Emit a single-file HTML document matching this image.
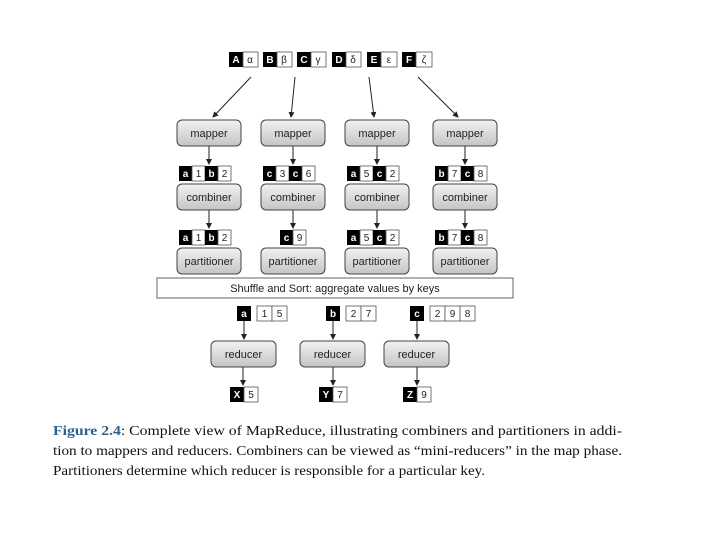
<!DOCTYPE html>
<html><head><meta charset="utf-8"><style>
body{margin:0;background:#fff;}
svg{display:block;}
.k{fill:#000}
.v{fill:#fff;stroke:#555;stroke-width:0.8}
.kt{fill:#fff;font:bold 10px "Liberation Sans",sans-serif;text-anchor:middle}
.vt{fill:#222;font:10px "Liberation Sans",sans-serif;text-anchor:middle}
.n{fill:url(#g);stroke:#444;stroke-width:1}
.nt{fill:#222;font:11px "Liberation Sans",sans-serif;text-anchor:middle}
.a{stroke:#222;stroke-width:1;fill:none;marker-end:url(#ar)}
.cap{font:13.5px "Liberation Serif",serif;fill:#111}
</style></head><body>
<svg width="720" height="540" xmlns="http://www.w3.org/2000/svg">
<defs>
<linearGradient id="g" x1="0" y1="0" x2="0" y2="1"><stop offset="0" stop-color="#f2f2f2"/><stop offset="1" stop-color="#c4c4c4"/></linearGradient>
<marker id="ar" markerWidth="6" markerHeight="6" refX="5" refY="3" orient="auto"><path d="M0,0 L6,3 L0,6 z" fill="#222"/></marker>
</defs>
<!-- top inputs -->
<g>
<rect class="k" x="229" y="52" width="14" height="15"/><text class="kt" x="236" y="63">A</text><rect class="v" x="243" y="52" width="15" height="15"/><text class="vt" x="250" y="63">α</text>
<rect class="k" x="263" y="52" width="14" height="15"/><text class="kt" x="270" y="63">B</text><rect class="v" x="277" y="52" width="15" height="15"/><text class="vt" x="284" y="63">β</text>
<rect class="k" x="297" y="52" width="14" height="15"/><text class="kt" x="304" y="63">C</text><rect class="v" x="311" y="52" width="15" height="15"/><text class="vt" x="318" y="63">γ</text>
<rect class="k" x="332" y="52" width="14" height="15"/><text class="kt" x="339" y="63">D</text><rect class="v" x="346" y="52" width="15" height="15"/><text class="vt" x="353" y="63">δ</text>
<rect class="k" x="367" y="52" width="14" height="15"/><text class="kt" x="374" y="63">E</text><rect class="v" x="381" y="52" width="16" height="15"/><text class="vt" x="389" y="63">ε</text>
<rect class="k" x="402" y="52" width="14" height="15"/><text class="kt" x="409" y="63">F</text><rect class="v" x="416" y="52" width="16" height="15"/><text class="vt" x="424" y="63">ζ</text>
</g>
<line class="a" x1="251" y1="77" x2="213" y2="117"/>
<line class="a" x1="295" y1="77" x2="291" y2="117"/>
<line class="a" x1="369" y1="77" x2="374" y2="117"/>
<line class="a" x1="418" y1="77" x2="458" y2="117"/>
<!-- mappers -->
<rect class="n" x="177" y="120" width="64" height="26" rx="5"/><text class="nt" x="209" y="137">mapper</text>
<rect class="n" x="261" y="120" width="64" height="26" rx="5"/><text class="nt" x="293" y="137">mapper</text>
<rect class="n" x="345" y="120" width="64" height="26" rx="5"/><text class="nt" x="377" y="137">mapper</text>
<rect class="n" x="433" y="120" width="64" height="26" rx="5"/><text class="nt" x="465" y="137">mapper</text>
<line class="a" x1="209" y1="146" x2="209" y2="164"/>
<line class="a" x1="293" y1="146" x2="293" y2="164"/>
<line class="a" x1="377" y1="146" x2="377" y2="164"/>
<line class="a" x1="465" y1="146" x2="465" y2="164"/>
<!-- pairs row 1 -->
<g>
<rect class="k" x="179" y="166" width="13" height="15"/><text class="kt" x="185.5" y="177">a</text><rect class="v" x="192" y="166" width="13" height="15"/><text class="vt" x="198.5" y="177">1</text><rect class="k" x="205" y="166" width="13" height="15"/><text class="kt" x="211.5" y="177">b</text><rect class="v" x="218" y="166" width="13" height="15"/><text class="vt" x="224.5" y="177">2</text>
<rect class="k" x="263" y="166" width="13" height="15"/><text class="kt" x="269.5" y="177">c</text><rect class="v" x="276" y="166" width="13" height="15"/><text class="vt" x="282.5" y="177">3</text><rect class="k" x="289" y="166" width="13" height="15"/><text class="kt" x="295.5" y="177">c</text><rect class="v" x="302" y="166" width="13" height="15"/><text class="vt" x="308.5" y="177">6</text>
<rect class="k" x="347" y="166" width="13" height="15"/><text class="kt" x="353.5" y="177">a</text><rect class="v" x="360" y="166" width="13" height="15"/><text class="vt" x="366.5" y="177">5</text><rect class="k" x="373" y="166" width="13" height="15"/><text class="kt" x="379.5" y="177">c</text><rect class="v" x="386" y="166" width="13" height="15"/><text class="vt" x="392.5" y="177">2</text>
<rect class="k" x="435" y="166" width="13" height="15"/><text class="kt" x="441.5" y="177">b</text><rect class="v" x="448" y="166" width="13" height="15"/><text class="vt" x="454.5" y="177">7</text><rect class="k" x="461" y="166" width="13" height="15"/><text class="kt" x="467.5" y="177">c</text><rect class="v" x="474" y="166" width="13" height="15"/><text class="vt" x="480.5" y="177">8</text>
</g>
<!-- combiners -->
<rect class="n" x="177" y="184" width="64" height="26" rx="5"/><text class="nt" x="209" y="201">combiner</text>
<rect class="n" x="261" y="184" width="64" height="26" rx="5"/><text class="nt" x="293" y="201">combiner</text>
<rect class="n" x="345" y="184" width="64" height="26" rx="5"/><text class="nt" x="377" y="201">combiner</text>
<rect class="n" x="433" y="184" width="64" height="26" rx="5"/><text class="nt" x="465" y="201">combiner</text>
<line class="a" x1="209" y1="210" x2="209" y2="228"/>
<line class="a" x1="293" y1="210" x2="293" y2="228"/>
<line class="a" x1="377" y1="210" x2="377" y2="228"/>
<line class="a" x1="465" y1="210" x2="465" y2="228"/>
<!-- pairs row 2 -->
<g>
<rect class="k" x="179" y="230" width="13" height="15"/><text class="kt" x="185.5" y="241">a</text><rect class="v" x="192" y="230" width="13" height="15"/><text class="vt" x="198.5" y="241">1</text><rect class="k" x="205" y="230" width="13" height="15"/><text class="kt" x="211.5" y="241">b</text><rect class="v" x="218" y="230" width="13" height="15"/><text class="vt" x="224.5" y="241">2</text>
<rect class="k" x="280" y="230" width="13" height="15"/><text class="kt" x="286.5" y="241">c</text><rect class="v" x="293" y="230" width="13" height="15"/><text class="vt" x="299.5" y="241">9</text>
<rect class="k" x="347" y="230" width="13" height="15"/><text class="kt" x="353.5" y="241">a</text><rect class="v" x="360" y="230" width="13" height="15"/><text class="vt" x="366.5" y="241">5</text><rect class="k" x="373" y="230" width="13" height="15"/><text class="kt" x="379.5" y="241">c</text><rect class="v" x="386" y="230" width="13" height="15"/><text class="vt" x="392.5" y="241">2</text>
<rect class="k" x="435" y="230" width="13" height="15"/><text class="kt" x="441.5" y="241">b</text><rect class="v" x="448" y="230" width="13" height="15"/><text class="vt" x="454.5" y="241">7</text><rect class="k" x="461" y="230" width="13" height="15"/><text class="kt" x="467.5" y="241">c</text><rect class="v" x="474" y="230" width="13" height="15"/><text class="vt" x="480.5" y="241">8</text>
</g>
<!-- partitioners -->
<rect class="n" x="177" y="248" width="64" height="26" rx="5"/><text class="nt" x="209" y="265">partitioner</text>
<rect class="n" x="261" y="248" width="64" height="26" rx="5"/><text class="nt" x="293" y="265">partitioner</text>
<rect class="n" x="345" y="248" width="64" height="26" rx="5"/><text class="nt" x="377" y="265">partitioner</text>
<rect class="n" x="433" y="248" width="64" height="26" rx="5"/><text class="nt" x="465" y="265">partitioner</text>
<!-- shuffle -->
<rect x="157" y="278" width="356" height="20" fill="#fff" stroke="#666" stroke-width="1"/>
<text class="nt" x="335" y="292">Shuffle and Sort: aggregate values by keys</text>
<!-- reducer keys -->
<rect class="k" x="237" y="306" width="14" height="15"/><text class="kt" x="244" y="317">a</text>
<rect class="v" x="257" y="306" width="15" height="15"/><text class="vt" x="264.5" y="317">1</text><rect class="v" x="272" y="306" width="15" height="15"/><text class="vt" x="279.5" y="317">5</text>
<rect class="k" x="326" y="306" width="14" height="15"/><text class="kt" x="333" y="317">b</text>
<rect class="v" x="346" y="306" width="15" height="15"/><text class="vt" x="353.5" y="317">2</text><rect class="v" x="361" y="306" width="15" height="15"/><text class="vt" x="368.5" y="317">7</text>
<rect class="k" x="410" y="306" width="14" height="15"/><text class="kt" x="417" y="317">c</text>
<rect class="v" x="430" y="306" width="15" height="15"/><text class="vt" x="437.5" y="317">2</text><rect class="v" x="445" y="306" width="15" height="15"/><text class="vt" x="452.5" y="317">9</text><rect class="v" x="460" y="306" width="15" height="15"/><text class="vt" x="467.5" y="317">8</text>
<line class="a" x1="244" y1="321" x2="244" y2="339"/>
<line class="a" x1="333" y1="321" x2="333" y2="339"/>
<line class="a" x1="417" y1="321" x2="417" y2="339"/>
<!-- reducers -->
<rect class="n" x="211" y="341" width="65" height="26" rx="5"/><text class="nt" x="243.5" y="358">reducer</text>
<rect class="n" x="300" y="341" width="65" height="26" rx="5"/><text class="nt" x="332.5" y="358">reducer</text>
<rect class="n" x="384" y="341" width="65" height="26" rx="5"/><text class="nt" x="416.5" y="358">reducer</text>
<line class="a" x1="243" y1="367" x2="243" y2="385"/>
<line class="a" x1="333" y1="367" x2="333" y2="385"/>
<line class="a" x1="417" y1="367" x2="417" y2="385"/>
<!-- outputs -->
<rect class="k" x="230" y="387" width="14" height="15"/><text class="kt" x="237" y="398">X</text><rect class="v" x="244" y="387" width="14" height="15"/><text class="vt" x="251" y="398">5</text>
<rect class="k" x="319" y="387" width="14" height="15"/><text class="kt" x="326" y="398">Y</text><rect class="v" x="333" y="387" width="14" height="15"/><text class="vt" x="340" y="398">7</text>
<rect class="k" x="403" y="387" width="14" height="15"/><text class="kt" x="410" y="398">Z</text><rect class="v" x="417" y="387" width="14" height="15"/><text class="vt" x="424" y="398">9</text>
<!-- caption -->
<text class="cap" x="53" y="435" textLength="569" lengthAdjust="spacingAndGlyphs"><tspan fill="#2a5f8f" font-weight="bold">Figure 2.4</tspan>: Complete view of MapReduce, illustrating combiners and partitioners in addi-</text>
<text class="cap" x="53" y="455" textLength="569" lengthAdjust="spacingAndGlyphs">tion to mappers and reducers. Combiners can be viewed as “mini-reducers” in the map phase.</text>
<text class="cap" x="53" y="475" textLength="432" lengthAdjust="spacingAndGlyphs">Partitioners determine which reducer is responsible for a particular key.</text>
</svg>
</body></html>
